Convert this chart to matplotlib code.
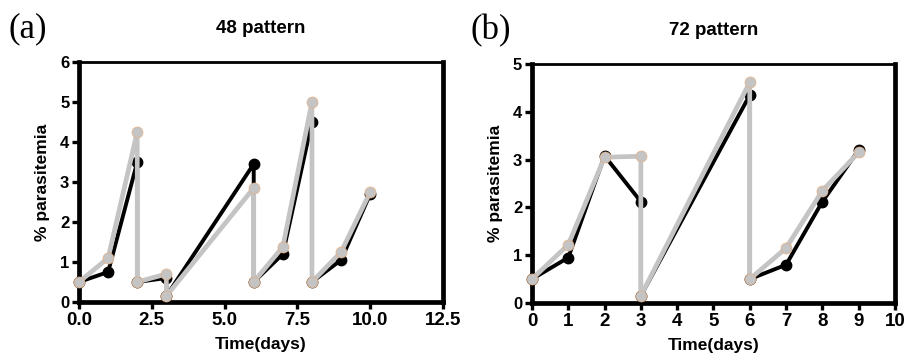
import numpy as np
import matplotlib.pyplot as plt

plt.rcParams['font.family'] = ['Liberation Sans', 'DejaVu Sans']

# 48 h pattern: repeated days mark the sampling drop (same day, new value)
t48 = [0, 1, 2, 2, 3, 3, 6, 6, 7, 8, 8, 9, 10]
black48 = [0.5, 0.75, 3.5, 0.5, 0.6, 0.15, 3.45, 0.5, 1.2, 4.5, 0.5, 1.05, 2.7]
gray48 = [0.5, 1.1, 4.25, 0.5, 0.7, 0.15, 2.85, 0.5, 1.38, 5.0, 0.5, 1.25, 2.75]

# 72 h pattern
t72 = [0, 1, 2, 3, 3, 6, 6, 7, 8, 9]
black72 = [0.5, 0.95, 3.08, 2.12, 0.15, 4.35, 0.5, 0.8, 2.12, 3.2]
gray72 = [0.5, 1.22, 3.05, 3.07, 0.15, 4.62, 0.5, 1.15, 2.35, 3.15]

GRAY = '#c4c4c4'
ORANGE = '#eeaa70'

fig = plt.figure(figsize=(9.05, 3.6), dpi=100)
ax1 = fig.add_axes([0.0873, 0.1611, 0.4022, 0.6667])
ax2 = fig.add_axes([0.5878, 0.1583, 0.4011, 0.6639])


def draw(ax, t, yb, yg):
    ax.plot(t, yb, color='black', lw=2.8, marker='o', ms=7.5, zorder=3)
    ax.plot(t, yg, color=GRAY, lw=3.4, marker='o', ms=8, mec=ORANGE, mew=0.4,
            zorder=4)


def style(ax, title, letter, lx):
    for side in ['left', 'bottom', 'right']:
        ax.spines[side].set_linewidth(3.4)
    ax.spines['top'].set_linewidth(2)
    ax.tick_params(direction='out', length=5, width=2.4, pad=2)
    for lab in ax.get_xticklabels():
        lab.set_fontweight('bold')
        lab.set_fontsize(13.5)
    for lab in ax.get_yticklabels():
        lab.set_fontweight('bold')
        lab.set_fontsize(12)
    ax.set_xlabel('Time(days)', fontsize=12.5, fontweight='bold', labelpad=6)
    ax.set_ylabel('% parasitemia', fontsize=12.5, fontweight='bold', labelpad=7)
    ax.set_title(title, fontsize=13.5, fontweight='bold', pad=21)
    ax.text(lx, 1.14, letter, transform=ax.transAxes, fontsize=25,
            family='Liberation Serif', va='center', ha='left')


draw(ax1, t48, black48, gray48)
ax1.set_xlim(0, 12.5)
ax1.set_ylim(0, 6)
ax1.set_xticks([0, 2.5, 5, 7.5, 10, 12.5])
ax1.set_xticklabels(['0.0', '2.5', '5.0', '7.5', '10.0', '12.5'])
ax1.set_yticks(range(0, 7))
style(ax1, '48 pattern', '(a)', -0.195)

draw(ax2, t72, black72, gray72)
ax2.set_xlim(0, 10)
ax2.set_ylim(0, 5)
ax2.set_xticks(range(0, 11))
ax2.set_yticks(range(0, 6))
style(ax2, '72 pattern', '(b)', -0.17)

for ax in (ax1, ax2):
    for line in ax.lines:
        line.set_clip_on(False)

fig.savefig('out.png', dpi=100)
